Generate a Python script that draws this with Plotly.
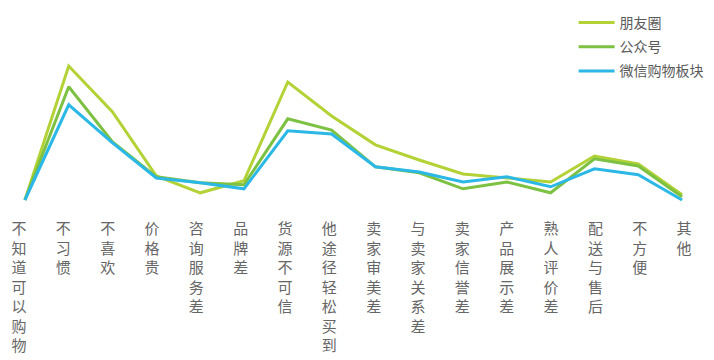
import plotly.graph_objects as go

# Reasons for not shopping via each WeChat channel (%)
categories = ["不知道可以购物", "不习惯", "不喜欢", "价格贵", "咨询服务差", "品牌差",
              "货源不可信", "他途径轻松买到", "卖家审美差", "与卖家关系差", "卖家信誉差",
              "产品展示差", "熟人评价差", "配送与售后", "不方便", "其他"]
pengyouquan = [2.5, 36.0, 24.5, 8.5, 4.3, 7.3, 32.0, 23.5, 16.3, 12.5, 9.0, 8.0, 7.0, 13.5, 11.5, 3.8]
gongzhonghao = [2.5, 30.8, 17.0, 8.3, 6.8, 6.3, 22.8, 20.0, 10.8, 9.3, 5.3, 7.0, 4.3, 12.8, 11.0, 3.3]
gouwu_bankuai = [2.5, 26.3, 16.8, 8.0, 6.8, 5.3, 19.8, 19.0, 10.8, 9.5, 7.0, 8.3, 5.8, 10.3, 8.8, 2.5]

series = [
    ("朋友圈", pengyouquan, "#b2d236"),
    ("公众号", gongzhonghao, "#7dc143"),
    ("微信购物板块", gouwu_bankuai, "#2bb8e6"),
]

# vertical tick labels: one character per line
tick_text = ["<br>".join(list(c)) for c in categories]
x_idx = list(range(len(categories)))
# labels sit on a slightly wider pitch than the line vertices
label_pos = [i * 1.012 - 0.135 for i in x_idx]

fig = go.Figure()
for i, (name, vals, color) in enumerate(series):
    fig.add_trace(go.Scatter(
        x=x_idx, y=vals, name=name, mode="lines",
        line=dict(color=color, width=3),
        legendgroup=f"g{i}",
    ))

font_family = "Noto Sans CJK SC"
fig.update_layout(
    width=714, height=360,
    margin=dict(l=3, r=10, t=10, b=150, autoexpand=False),
    paper_bgcolor="white", plot_bgcolor="white",
    font=dict(family=font_family, color="#666666"),
    xaxis=dict(
        range=[-0.5, len(categories) - 0.5],
        tickmode="array", tickvals=label_pos, ticktext=tick_text,
        tickangle=0, showgrid=False, zeroline=False, showline=False,
        ticks="", ticklabelstandoff=8,
        tickfont=dict(size=15, color="#666666", family=font_family),
    ),
    yaxis=dict(range=[0, 50], visible=False, showgrid=False, zeroline=False),
    showlegend=True,
    legend=dict(
        x=0.814, y=1.015, xanchor="left", yanchor="top",
        traceorder="grouped", tracegroupgap=3, itemwidth=36,
        font=dict(size=14, color="#5a5a5a", family=font_family),
        bgcolor="rgba(0,0,0,0)", borderwidth=0,
    ),
)

fig.write_html("out.html")
